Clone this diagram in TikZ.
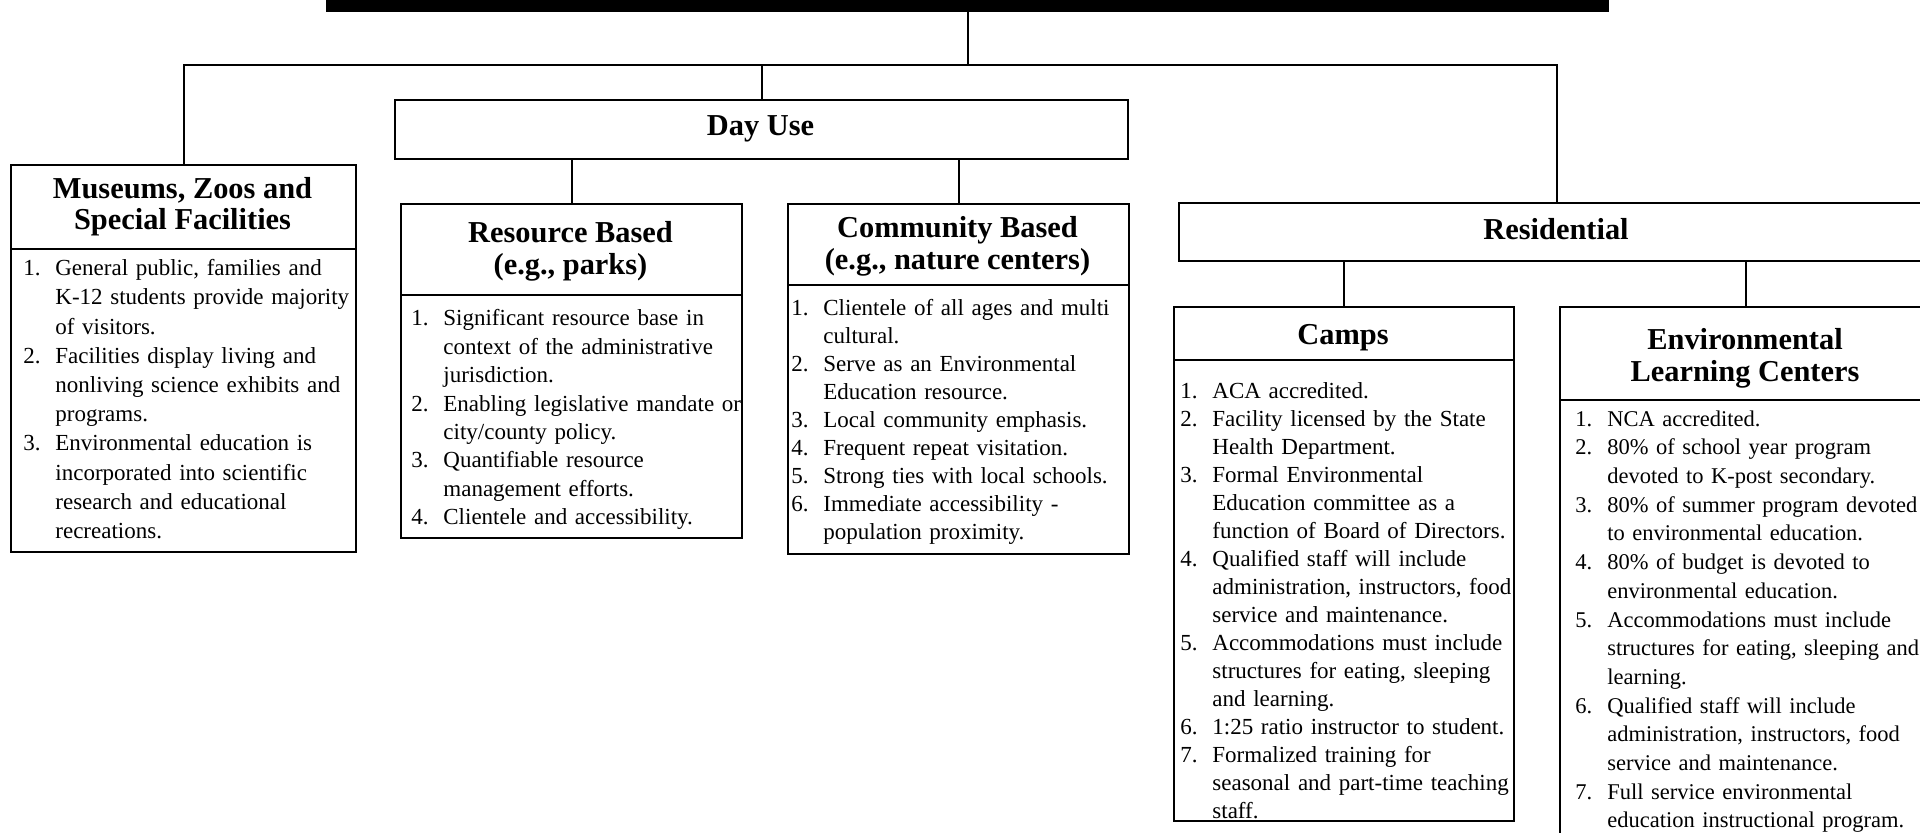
\documentclass[tikz,border=0pt]{standalone}
\usepackage{fontspec}
\setmainfont{Liberation Serif}
\newcommand\itm[2]{\par\hangindent=16pt\hangafter=1\noindent\makebox[16pt][l]{#1}#2}
\tikzset{
  box/.style={draw, line width=1.2pt, rectangle, inner sep=0pt, anchor=north west},
  ttl/.style={font=\fontsize{15.2}{15.8}\selectfont\bfseries, align=center, inner sep=0pt},
  body/.style={anchor=north west, inner sep=0pt, text width=200pt, font=\fontsize{11.5}{#1}\selectfont},
  body/.default=14.2,
  conn/.style={line width=1.2pt},
}
\begin{document}
\begin{tikzpicture}[x=0.5pt,y=-0.5pt]
\useasboundingbox (0,0) rectangle (1920,832);

% top bar
\node[box, fill=black, minimum width=640.5pt, minimum height=7.5pt] (top) at (326,-5) {};

% boxes
\node[box, minimum width=172.5pt, minimum height=193.5pt] (mus) at (10,164) {};
\node[box, minimum width=366.5pt, minimum height=29.5pt] (day) at (394,99) {};
\node[box, minimum width=170.5pt, minimum height=167pt] (resb) at (400,203) {};
\node[box, minimum width=170.5pt, minimum height=175pt] (comb) at (787,203) {};
\node[box, minimum width=378pt, minimum height=29pt] (resi) at (1178,202) {};
\node[box, minimum width=170pt, minimum height=257pt] (camps) at (1173,306) {};
\node[box, minimum width=186pt, minimum height=272pt] (elc) at (1559,306) {};

% title separators
\draw[conn] (10,249) -- (355,249);
\draw[conn] (400,295) -- (741,295);
\draw[conn] (787,285) -- (1128,285);
\draw[conn] (1173,360) -- (1513,360);
\draw[conn] (1559,400) -- (1931,400);

% connectors
\coordinate (bus) at (0,65);
\draw[conn] (top.south) -- (top.south |- bus);
\draw[conn] (mus.north) |- (resi.north |- bus) -- (resi.north);
\draw[conn] (day.north) -- (day.north |- bus);
\draw[conn] (resb.north) -- (resb.north |- day.south);
\draw[conn] (comb.north) -- (comb.north |- day.south);
\draw[conn] (camps.north) -- (camps.north |- resi.south);
\draw[conn] (elc.north) -- (elc.north |- resi.south);

% titles
\node[ttl] (musT) at (182.5,206.5) {Museums, Zoos and\\Special Facilities};
\node[ttl] (dayT) at (760.5,128.5) {Day Use};
\node[ttl] (resbT) at (570.5,251.5) {Resource Based\\(e.g., parks)};
\node[ttl] (combT) at (957.5,246.5) {Community Based\\(e.g., nature centers)};
\node[ttl] (resiT) at (1556,229) {Residential};
\node[ttl] (campsT) at (1343,338) {Camps};
\node[ttl] (elcT) at (1745,358) {Environmental\\Learning Centers};

% bodies
\node[body=14.6] (musB) at (23,246) {\raggedright
\itm{1.}{General public, families and\newline K-12 students provide majority\newline of visitors.}
\itm{2.}{Facilities display living and\newline nonliving science exhibits and\newline programs.}
\itm{3.}{Environmental education is\newline incorporated into scientific\newline research and educational\newline recreations.}\par};

\node[body=14.2] (resbB) at (411,297) {\raggedright
\itm{1.}{Significant resource base in\newline context of the administrative\newline jurisdiction.}
\itm{2.}{Enabling legislative mandate or\newline city/county policy.}
\itm{3.}{Quantifiable resource\newline management efforts.}
\itm{4.}{Clientele and accessibility.}\par};

\node[body=14.0] (combB) at (791,287) {\raggedright
\itm{1.}{Clientele of all ages and multi\newline cultural.}
\itm{2.}{Serve as an Environmental\newline Education resource.}
\itm{3.}{Local community emphasis.}
\itm{4.}{Frequent repeat visitation.}
\itm{5.}{Strong ties with local schools.}
\itm{6.}{Immediate accessibility -\newline population proximity.}\par};

\node[body=14.0] (campsB) at (1180,370) {\raggedright
\itm{1.}{ACA accredited.}
\itm{2.}{Facility licensed by the State\newline Health Department.}
\itm{3.}{Formal Environmental\newline Education committee as a\newline function of Board of Directors.}
\itm{4.}{Qualified staff will include\newline administration, instructors, food\newline service and maintenance.}
\itm{5.}{Accommodations must include\newline structures for eating, sleeping\newline and learning.}
\itm{6.}{1:25 ratio instructor to student.}
\itm{7.}{Formalized training for\newline seasonal and part-time teaching\newline staff.}\par};

\node[body=14.35, font=\fontsize{11.25}{14.35}\selectfont] (elcB) at (1575,397) {\raggedright
\itm{1.}{NCA accredited.}
\itm{2.}{80\% of school year program\newline devoted to K-post secondary.}
\itm{3.}{80\% of summer program devoted\newline to environmental education.}
\itm{4.}{80\% of budget is devoted to\newline environmental education.}
\itm{5.}{Accommodations must include\newline structures for eating, sleeping and\newline learning.}
\itm{6.}{Qualified staff will include\newline administration, instructors, food\newline service and maintenance.}
\itm{7.}{Full service environmental\newline education instructional program.}\par};
\end{tikzpicture}
\end{document}
